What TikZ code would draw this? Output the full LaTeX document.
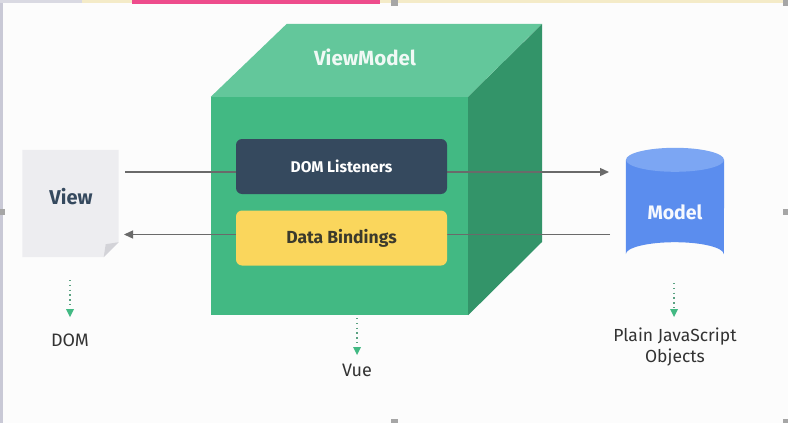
\documentclass[tikz,border=0pt]{standalone}
\usepackage{fontspec}
\setmainfont{Fira Sans}
\usetikzlibrary{arrows.meta,calc}
\definecolor{vgreen}{HTML}{42B983}
\definecolor{vgreentop}{HTML}{63C79B}
\definecolor{vgreenside}{HTML}{339469}
\definecolor{vnavy}{HTML}{35495E}
\definecolor{vyellow}{HTML}{FAD65C}
\definecolor{vybtext}{HTML}{3B3A2C}
\definecolor{docgray}{HTML}{EDEDF0}
\definecolor{docfold}{HTML}{D3D3D8}
\definecolor{mblue}{HTML}{5B8DEE}
\definecolor{mbluetop}{HTML}{7CA6F3}
\definecolor{lgray}{HTML}{6A6A6A}
\definecolor{labtext}{HTML}{333333}
\definecolor{framec}{HTML}{C9C9D6}
\definecolor{beige}{HTML}{F4EBC8}
\definecolor{pinkc}{HTML}{EE4C8C}
\tikzset{
  conn/.style={draw=lgray,line width=1.3pt},
  tip/.style={-{Triangle[length=9pt,width=8pt]}},
  dotline/.style={draw=vgreen!60!gray,line width=1.3pt,dash pattern=on 1.3pt off 3.5pt},
  greenhead/.style={fill=vgreen},
  innerbox/.style={rounded corners=6pt,minimum width=211pt,minimum height=55pt,inner sep=0pt},
  lab/.style={text=labtext,font=\fontsize{18}{21}\selectfont,align=center},
}
\begin{document}
\begin{tikzpicture}[x=1pt,y=-1pt]
\useasboundingbox (0,0) rectangle (788,423);
\fill[white!98!gray] (0,0) rectangle (788,423);
% screenshot frame
\fill[framec] (0,0) rectangle (2.5,423);
\fill[framec!70] (0,0) rectangle (82,2.5);
\fill[beige] (82,0) rectangle (788,2.5);
\fill[pinkc] (132,0) rectangle (380,4);
\fill[gray!70] (391,0) rectangle (398,6);
\fill[gray!70] (783,0) rectangle (788,6);
\fill[gray!70] (0,209) rectangle (5,215);
\fill[gray!70] (783,209) rectangle (788,215);
\fill[gray!70] (391,419) rectangle (398,423);
\fill[gray!70] (783,419) rectangle (788,423);

% ViewModel cube
\node[fill=vgreen,minimum width=257pt,minimum height=218pt,inner sep=0pt] (vm) at (339.5,206) {};
\fill[vgreentop] (vm.north west) -- ++(76,-73) -- ++(255,0) -- (vm.north east) -- cycle;
\fill[vgreenside] (vm.north east) -- ++(74,-73) -- ++(0,218) -- (vm.south east) -- cycle;
\node[text=white!92!vgreen,font=\bfseries\fontsize{20.5}{24}\selectfont] (vmlab) at (365,57) {ViewModel};

% View document
\node[minimum width=96pt,minimum height=107pt,inner sep=0pt] (view) at (70.5,203.5) {};
\fill[docgray] (view.north west) -- (view.north east) -- ([yshift=15pt]view.south east) -- ([xshift=-15pt]view.south east) -- (view.south west) -- cycle;
\fill[docfold] ([yshift=15pt]view.south east) -- ([xshift=-15pt]view.south east) -- ([xshift=-13pt,yshift=13pt]view.south east) -- cycle;
\node[text=vnavy,font=\bfseries\fontsize{20}{24}\selectfont] at (71,197) (viewlab) {View};

% Model cylinder
\node[minimum width=98pt,minimum height=118pt,inner sep=0pt] (model) at (675,207) {};
\fill[mblue] ($(model.north west)+(0,12)$) -- ($(model.south west)+(0,-12)$) arc[start angle=180,end angle=360,x radius=49pt,y radius=-12pt] -- ($(model.north east)+(0,12)$) -- cycle;
\fill[mbluetop] ($(model.north)+(0,12)$) ellipse[x radius=49pt,y radius=12pt];
\node[text=white!95!mblue,font=\bfseries\fontsize{19.5}{23}\selectfont] (modellab) at (675,212) {Model};

% connectors
\coordinate (a1) at (125,172);
\coordinate (a2) at (609,172);
\coordinate (b1) at (610,234.5);
\coordinate (b2) at (124,234.5);
\draw[conn,tip] (a1) -- (a2);
\draw[conn,tip] (b1) -- (b2);

% inner boxes
\node[innerbox,fill=vnavy,text=white,font=\bfseries\fontsize{15.5}{18}\selectfont] (dl) at (341.5,166.5) {DOM Listeners};
\node[innerbox,fill=vyellow,text=vybtext,font=\bfseries\fontsize{17.5}{20}\selectfont] (db) at (341.5,238) {Data Bindings};

% bottom labels
\node[lab] (dom) at (70,340) {DOM};
\node[lab] (vue) at (357,370) {Vue};
\node[lab,font=\fontsize{17.5}{21}\selectfont] (pjo) at (675,347) {Plain JavaScript\\Objects};

% dotted arrows
\coordinate (d1) at (70,280);
\coordinate (v1) at (357,318);
\coordinate (m1) at (674,283);
\coordinate (d2) at (70,309);
\coordinate (v2) at (357,347);
\coordinate (m2) at (674,309);
\draw[dotline] (d1) -- (d2);
\draw[dotline] (v1) -- (v2);
\draw[dotline] (m1) -- (m2);
\fill[greenhead] ($(d2)+(-4,0)$) -- ($(d2)+(4,0)$) -- ($(d2)+(0,8)$) -- cycle;
\fill[greenhead] ($(v2)+(-4,0)$) -- ($(v2)+(4,0)$) -- ($(v2)+(0,8)$) -- cycle;
\fill[greenhead] ($(m2)+(-4,0)$) -- ($(m2)+(4,0)$) -- ($(m2)+(0,8)$) -- cycle;
\end{tikzpicture}
\end{document}
